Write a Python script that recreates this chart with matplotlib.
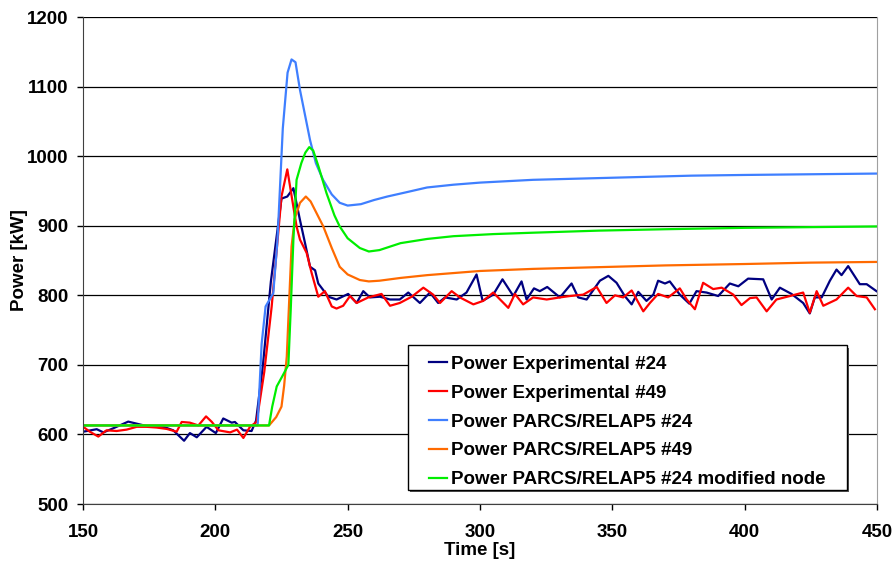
import matplotlib

matplotlib.use("Agg")
import matplotlib.pyplot as plt
from matplotlib.patches import Rectangle

# Power Experimental #24
exp24_t = [150.1, 155.2, 157.7, 161.5, 167.1, 170.9, 175.3, 180.4, 184.1, 188.2, 190.4, 193,
           196.7, 200.2, 203, 206.2, 207.4, 210.6, 213.7, 215.4, 218, 221, 225, 227.2, 229.5,
           232, 233.9, 235.8, 237.7, 238.9, 242.7,
           245.8, 250.2, 253.4, 255.9, 258.4, 262.2, 266, 269.7, 272.9, 277.3, 281.1, 284.2,
           286.8, 291.2, 294.9, 298.7, 301, 305, 308.5, 312.6, 315.7, 317.6, 320.4, 322.6,
           325.4, 330.2, 334.6, 337.1, 340.3, 345.3, 348.5, 351.6, 354.7, 357.3, 359.8, 362.9,
           365.5, 367.3, 369.9, 371.7, 375.5, 379.1, 381.8, 385.6, 390, 394.4, 397.6, 401.3,
           407, 410.2, 413.3, 417.7, 422.1, 424.6, 426.5, 429.1, 432.2, 434.7, 436.6, 439.1,
           443.5, 446.1, 449.8]
exp24_p = [604, 607.6, 603, 609, 618.5, 615, 611, 611, 606, 591, 602, 596,
           611, 602, 623, 617, 618, 606, 605, 620, 700, 820, 939, 942, 954,
           908, 875, 841, 836, 817, 798,
           794, 802, 789, 806, 797, 798, 794, 794, 804, 789, 804, 789,
           797, 794, 804, 830, 792, 801, 823, 799, 820, 794, 810, 806,
           812, 797, 817, 797, 794, 821, 828, 818, 799, 787, 805, 792,
           801, 821, 817, 820, 801, 788, 806, 804, 799, 817, 813, 824,
           823, 794, 811, 802, 789, 774, 797, 797, 821, 837, 829, 842,
           816, 816, 806]

# Power Experimental #49
exp49_t = [150.1, 152.6, 155.8, 158.9, 162.7, 166.5, 170.3, 174.1, 177.8, 181.6, 185.4, 187.3,
           190.4, 193.6, 196.5, 198.7, 201.2, 205.6, 208.2, 210.6, 213.1, 215.6, 218.5, 221.3,
           225, 227.2, 230.7, 232, 234.5, 236.4, 238.9, 241.4, 244,
           245.8, 248.3, 250.9, 253.4, 257.8, 262.8, 266, 269.7, 274.2, 278.6, 282.3, 284.9,
           289.3, 292.4, 297.5, 301.2, 305, 310.7, 313.2, 316.3, 320.1, 325.2, 330.2, 334,
           339, 344.1, 347.8, 351, 354.1, 357.3, 361.7, 364.2, 367.3, 371.1, 375.5, 378.1,
           381.2, 384.3, 388.1, 391.3, 395.7, 398.8, 402, 404.5, 408.3, 412, 417.1, 422.1,
           424.6, 427.2, 429.7, 434.7, 439.1, 442.3, 446.1, 449.2]
exp49_p = [611, 604, 597, 606, 605, 607, 611, 611, 610, 608, 604, 618,
           617, 613, 626, 618, 606, 603, 607, 595, 611, 618, 690, 784,
           942, 981, 899, 880, 861, 832, 798, 806, 784,
           781, 785, 799, 789, 797, 802, 785, 789, 798, 811, 801, 789,
           806, 797, 787, 792, 804, 782, 802, 787, 797, 794, 797, 799,
           801, 812, 789, 800, 797, 807, 777, 789, 802, 797, 810, 794,
           780, 818, 809, 811, 801, 786, 796, 797, 777, 794, 799, 804,
           775, 806, 785, 794, 811, 799, 797, 780]

# Power PARCS/RELAP5 #24
sim24_t = [150, 216, 217.5, 219, 221.9, 223.5, 225.5, 227.3, 228.8, 230.3, 232, 235.8, 238,
           240.7, 244, 247, 250, 255, 260, 265, 272, 280, 290, 300, 320, 340, 360, 380, 400,
           425, 450]
sim24_p = [613, 613, 730, 784, 803, 880, 1040, 1120, 1139, 1135, 1095, 1023, 990,
           966, 945, 933, 929, 931, 937, 942, 948, 955, 959, 962, 966, 968, 970, 972, 973,
           974, 975]

# Power PARCS/RELAP5 #49
sim49_t = [150, 220.3, 223, 225, 226, 227, 228, 228.8, 230, 232, 234.2, 236, 238, 240.8, 244,
           247, 250, 254.6, 258, 262, 270, 280, 300, 320, 340, 370, 400, 425, 450]
sim49_p = [613, 613, 625, 640, 670, 712, 800, 870, 910, 933, 942, 935, 920, 899, 868,
           841, 830, 822, 820, 821, 825, 829, 835, 838, 840, 843, 845, 847, 848]

# Power PARCS/RELAP5 #24 modified node
mod24_t = [150, 220.3, 221.5, 223.2, 225.5, 227.6, 228.5, 229.5, 230.7, 232.5, 234, 235.5, 237,
           239, 242, 245, 247, 250, 254.6, 258, 262, 270, 280, 290, 305, 320, 345, 370, 400,
           425, 450]
mod24_p = [613, 613, 640, 669, 685, 700, 780, 880, 966, 990, 1005, 1013, 1008,
           985, 947, 915, 899, 882, 868, 863, 865, 875, 881, 885, 888, 890, 893, 895, 897,
           898, 899]

series = [
    (exp24_t, exp24_p, "#000080", "Power Experimental #24"),
    (exp49_t, exp49_p, "#ff0000", "Power Experimental #49"),
    (sim24_t, sim24_p, "#3f7fff", "Power PARCS/RELAP5 #24"),
    (sim49_t, sim49_p, "#ff6a00", "Power PARCS/RELAP5 #49"),
    (mod24_t, mod24_p, "#00ee00", "Power PARCS/RELAP5 #24 modified node"),
]

plt.rcParams["font.family"] = ["Liberation Sans", "DejaVu Sans"]
plt.rcParams["font.weight"] = "bold"

fig = plt.figure(figsize=(8.96, 5.67), dpi=100)
ax = fig.add_axes([0.0926, 0.111, 0.8862, 0.859])

for t, p, color, label in series:
    ax.plot(t, p, color=color, linewidth=1.6, label=label, solid_joinstyle="round")

ax.set_xlim(150, 450)
ax.set_ylim(500, 1200)
ax.set_xticks(range(150, 451, 50))
ax.set_yticks(range(500, 1201, 100))
ax.yaxis.grid(True, color="black", linewidth=0.9)
ax.set_axisbelow(True)
ax.tick_params(axis="both", direction="out", length=4.3, width=1, labelsize=13.5)
ax.tick_params(axis="x", pad=10)
ax.tick_params(axis="y", pad=6)
for lbl in ax.get_xticklabels() + ax.get_yticklabels():
    lbl.set_fontweight("bold")
ax.spines["top"].set_visible(False)
ax.spines["right"].set_color("#a0a0a0")
ax.spines["left"].set_color("#404040")
ax.spines["bottom"].set_color("#404040")

ax.set_xlabel("Time [s]", fontsize=13.5, fontweight="bold", labelpad=1)
ax.set_ylabel("Power [kW]", fontsize=13.5, fontweight="bold", labelpad=-0.5)

# legend box (frame drawn separately so the side padding matches)
box_x0, box_y0, box_w, box_h = 0.409, 0.029, 0.553, 0.297
shadow = Rectangle((box_x0 + 0.003, box_y0 - 0.005), box_w, box_h, transform=ax.transAxes,
                   facecolor="#555555", edgecolor="none", zorder=5)
frame = Rectangle((box_x0, box_y0), box_w, box_h, transform=ax.transAxes,
                  facecolor="white", edgecolor="black", linewidth=1.0, zorder=6)
ax.add_patch(shadow)
ax.add_patch(frame)

leg = ax.legend(
    loc="upper left",
    bbox_to_anchor=(0.436, 0.305),
    frameon=False,
    handlelength=0.96,
    handletextpad=0.22,
    borderpad=0,
    labelspacing=0.63,
    borderaxespad=0,
    prop={"weight": "bold", "size": 13.5},
)
leg.set_zorder(7)

fig.savefig("out.png", dpi=100)
